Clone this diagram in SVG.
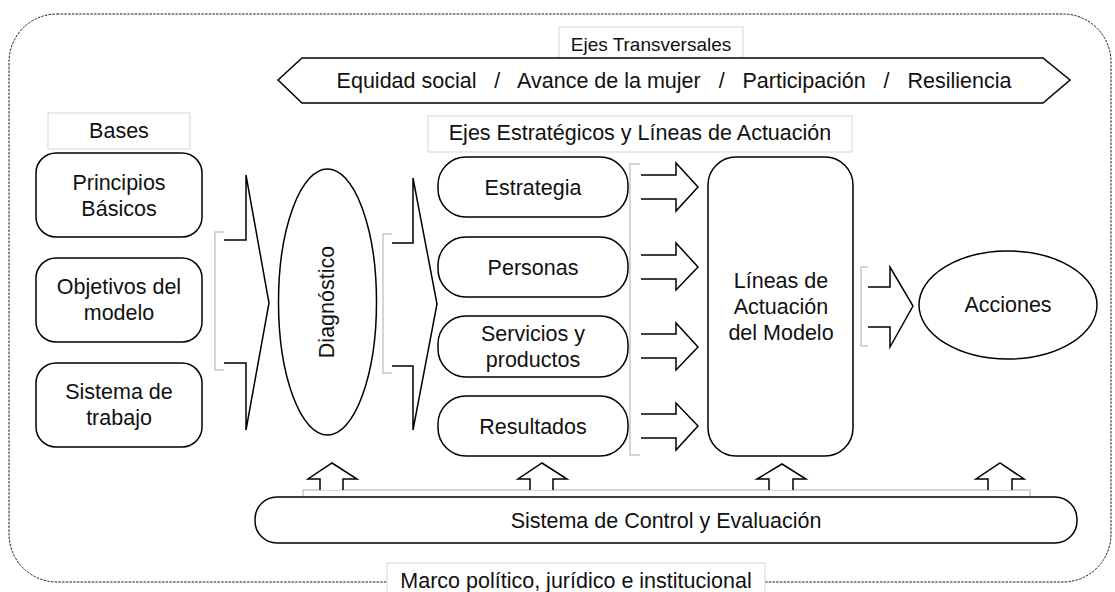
<svg xmlns="http://www.w3.org/2000/svg" width="1115" height="592" viewBox="0 0 1115 592">
<style>
.bg{fill:#fff}
.frame{fill:none;stroke:#1a1a1a;stroke-width:1;stroke-dasharray:2.5 1.2}
.box{fill:#fff;stroke:#000;stroke-width:1.5}
.lbl{fill:#fff;stroke:#d6d6d6;stroke-width:1}
.arr{fill:#fff;stroke:#000;stroke-width:1.5;stroke-linejoin:miter}
.gray{fill:none;stroke:#c8c8c8;stroke-width:1.5}
.t{font-family:"Liberation Sans",Arial,sans-serif;font-size:21.5px;fill:#111;text-anchor:middle}
.s{font-size:19px}
</style>
<rect class="bg" x="0" y="0" width="1115" height="592"/>
<rect id="frame" class="frame" x="9" y="14" width="1102" height="568" rx="48" ry="48"/>

<g id="ejes-transversales-label">
<rect class="lbl" x="559" y="27" width="184" height="34"/>
<text class="t s" x="651" y="51">Ejes Transversales</text>
</g>
<g id="ejes-transversales">
<polygon class="box" points="278,80 302,58 1043,58 1070,80 1043,103 302,103"/>
<text class="t" x="674" y="88" xml:space="preserve">Equidad social   /   Avance de la mujer   /   Participación   /   Resiliencia</text>
</g>

<g id="bases-label">
<rect class="lbl" x="48" y="113" width="142" height="36"/>
<text class="t" x="119" y="138">Bases</text>
</g>
<g id="ejes-estrategicos-label">
<rect class="lbl" x="428" y="116" width="424" height="36"/>
<text class="t" x="640" y="140">Ejes Estratégicos y Líneas de Actuación</text>
</g>

<g id="principios">
<rect class="box" x="36" y="153" width="166" height="84" rx="20"/>
<text class="t" x="119" y="190">Principios</text>
<text class="t" x="119" y="216">Básicos</text>
</g>
<g id="objetivos">
<rect class="box" x="36" y="258" width="166" height="84" rx="20"/>
<text class="t" x="119" y="294">Objetivos del</text>
<text class="t" x="119" y="320">modelo</text>
</g>
<g id="sistema-trabajo">
<rect class="box" x="36" y="363" width="166" height="84" rx="20"/>
<text class="t" x="119" y="399">Sistema de</text>
<text class="t" x="119" y="425">trabajo</text>
</g>

<g id="diagnostico">
<ellipse class="box" cx="327.5" cy="302" rx="49" ry="133"/>
<text class="t" transform="translate(334,302) rotate(-90)">Diagnóstico</text>
</g>

<g id="estrategia">
<rect class="box" x="438" y="157" width="190" height="60" rx="28"/>
<text class="t" x="533" y="195">Estrategia</text>
</g>
<g id="personas">
<rect class="box" x="438" y="237" width="190" height="60" rx="28"/>
<text class="t" x="533" y="275">Personas</text>
</g>
<g id="servicios">
<rect class="box" x="438" y="316" width="190" height="61" rx="28"/>
<text class="t" x="533" y="341">Servicios y</text>
<text class="t" x="533" y="367">productos</text>
</g>
<g id="resultados">
<rect class="box" x="438" y="396" width="190" height="60" rx="28"/>
<text class="t" x="533" y="434">Resultados</text>
</g>

<g id="lineas-actuacion">
<rect class="box" x="708" y="157" width="145" height="299" rx="28"/>
<text class="t" x="781" y="288">Líneas de</text>
<text class="t" x="781" y="314">Actuación</text>
<text class="t" x="781" y="340">del Modelo</text>
</g>

<g id="acciones">
<ellipse class="box" cx="1008" cy="305" rx="89" ry="54"/>
<text class="t" x="1008" y="312">Acciones</text>
</g>

<g id="connectors">
<path class="gray" d="M224,232 H215 V370 H224"/>
<path class="arr" d="M224,240 H246 V175 L269,303 L246,430 V363 H224"/>
<path class="gray" d="M392,234 H383 V373 H392"/>
<path class="arr" d="M392,243 H413 V178 L437,304 L413,430 V366 H392"/>
<path class="gray" d="M640,164 H630 V455 H640"/>
<path class="arr" d="M641,175 H676 V163 L698,187 L676,211 V199 H641"/>
<path class="arr" d="M641,255 H676 V243 L698,267 L676,290 V279 H641"/>
<path class="arr" d="M641,334 H676 V323 L698,347 L676,370 V358 H641"/>
<path class="arr" d="M641,414 H676 V403 L698,426 L676,450 V438 H641"/>
<path class="gray" d="M868,267 H861 V346 H868"/>
<path class="arr" d="M868,287 H890 V267 L913,306 L890,347 V327 H868"/>
<path class="gray" d="M303,497 V490 H1030 V497"/>
<path class="arr" d="M320,490 V479 H308 L332,463 L357,479 H343 V490"/>
<path class="arr" d="M530,490 V479 H518 L542,463 L567,479 H553 V490"/>
<path class="arr" d="M769,490 V479 H757 L782,464 L806,479 H793 V490"/>
<path class="arr" d="M988,490 V479 H976 L1000,463 L1024,479 H1012 V490"/>
</g>

<g id="sistema-control">
<rect class="box" x="255" y="497" width="822" height="46" rx="22"/>
<text class="t" x="666" y="528">Sistema de Control y Evaluación</text>
</g>

<g id="marco-label">
<rect class="lbl" x="387" y="563" width="378" height="36"/>
<text class="t" x="576" y="588">Marco político, jurídico e institucional</text>
</g>
</svg>
